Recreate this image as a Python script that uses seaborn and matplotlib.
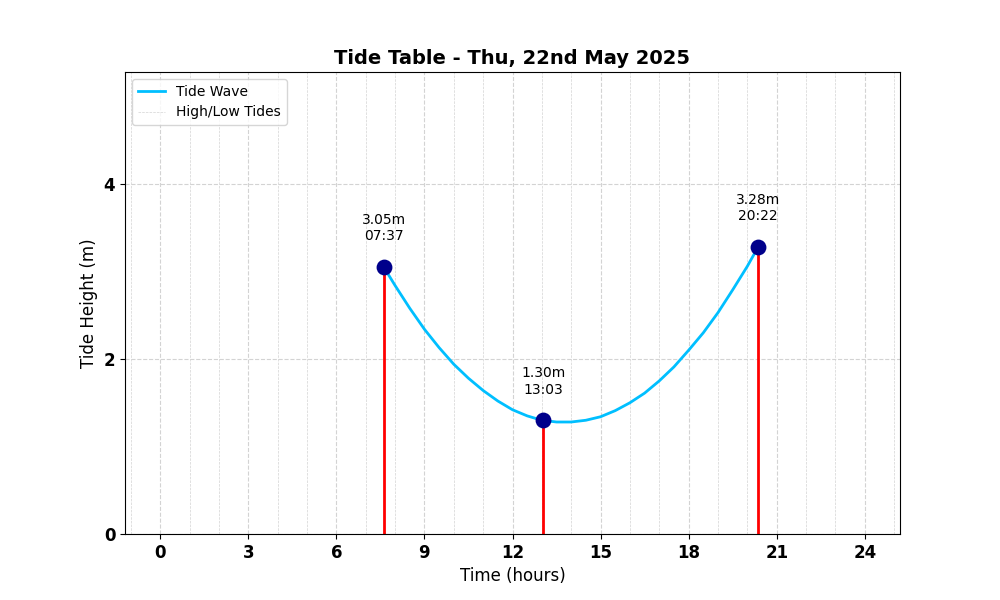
import matplotlib
matplotlib.use("Agg")
import matplotlib.pyplot as plt
from matplotlib.lines import Line2D
from matplotlib.ticker import MultipleLocator
import seaborn as sns
import numpy as np

# Tide extremes
tide_hours = [7.617, 13.05, 20.367]
tide_heights = [3.05, 1.30, 3.28]
tide_times = ["07:37", "13:03", "20:22"]

# Tide wave curve (half-hourly)
wave_hours = [7.617, 8, 8.5, 9, 9.5, 10, 10.5, 11, 11.5, 12, 12.5, 13, 13.5, 14,
              14.5, 15, 15.5, 16, 16.5, 17, 17.5, 18, 18.5, 19, 19.5, 20, 20.367]
wave_heights = [3.05, 2.84, 2.58, 2.34, 2.13, 1.94, 1.78, 1.64, 1.52, 1.42, 1.35, 1.30,
                1.28, 1.28, 1.30, 1.34, 1.41, 1.50, 1.61, 1.75, 1.91, 2.10, 2.30, 2.53,
                2.79, 3.06, 3.28]

title = "Tide Table - Thu, 22nd May 2025"

fig, ax = plt.subplots(figsize=(10, 6), dpi=100)

sns.lineplot(x=wave_hours, y=wave_heights, ax=ax, color="#00BFFF", linewidth=2,
             label="Tide Wave", sort=True, zorder=3)

ax.vlines(tide_hours, 0, tide_heights, colors="red", linewidth=2, zorder=2)
sns.scatterplot(x=tide_hours, y=tide_heights, ax=ax, color="darkblue", s=130,
                edgecolor="darkblue", linewidth=0, zorder=5, legend=False)

for h, v, t in zip(tide_hours, tide_heights, tide_times):
    ax.text(h, v + 0.27, f"{v:.2f}m\n{t}", ha="center", va="bottom", fontsize=10)

ax.set_xlim(-1.2, 25.2)
ax.set_ylim(0, max(tide_heights) + 2)
ax.xaxis.set_major_locator(MultipleLocator(3))
ax.xaxis.set_minor_locator(MultipleLocator(1))
ax.yaxis.set_major_locator(MultipleLocator(2))
ax.tick_params(axis="both", which="minor", length=0)
ax.grid(True, which="major", linestyle="--", color="lightgray", linewidth=0.8)
ax.grid(True, which="minor", axis="x", linestyle="--", color="lightgray", linewidth=0.5)
ax.set_axisbelow(True)

for lbl in ax.get_xticklabels() + ax.get_yticklabels():
    lbl.set_fontweight("bold")
    lbl.set_fontsize(12)

ax.set_xlabel("Time (hours)", fontsize=12)
ax.set_ylabel("Tide Height (m)", fontsize=12)
ax.set_title(title, fontsize=14, fontweight="bold")

handles = [Line2D([], [], color="#00BFFF", linewidth=2),
           Line2D([], [], color="lightgray", linestyle="--", linewidth=0.5)]
ax.legend(handles, ["Tide Wave", "High/Low Tides"], loc="upper left", fontsize=10)

fig.savefig("out.png", dpi=100)
